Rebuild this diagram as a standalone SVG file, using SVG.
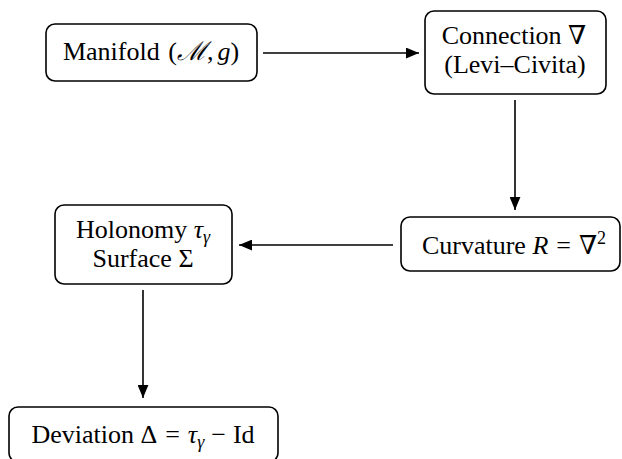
<svg xmlns="http://www.w3.org/2000/svg" width="622" height="459" viewBox="0 0 622 459">
<defs>
<style>
.box{fill:#fff;stroke:#000;stroke-width:1.6}
.t{font-family:"Liberation Serif","DejaVu Serif",serif;font-size:26px;fill:#000;text-anchor:middle}
.i{font-style:italic}
.edge{stroke:#000;stroke-width:1.6;fill:none;marker-end:url(#ah)}
</style>
<marker id="ah" viewBox="0 0 12 10" refX="12" refY="5" markerWidth="13" markerHeight="11" markerUnits="userSpaceOnUse" orient="auto">
<path d="M0,0 L12,5 L0,10 z" fill="#000"/>
</marker>
</defs>
<g id="connectors">
<path class="edge" d="M263,53 L419,53"/>
<path class="edge" d="M515,100 L515,210"/>
<path class="edge" d="M393,245 L239,245"/>
<path class="edge" d="M143,290 L143,398"/>
</g>
<g id="manifold">
<rect class="box" x="46" y="24" width="211" height="57" rx="9"/>
<text class="t" x="151" y="60">Manifold <tspan dx="2">(</tspan><tspan class="i">ℳ</tspan>,<tspan class="i" dx="4">g</tspan>)</text>
</g>
<g id="connection">
<rect class="box" x="425" y="11" width="181" height="83" rx="9"/>
<text class="t" x="514" y="44">Connection ∇</text>
<text class="t" x="515" y="73">(Levi–Civita)</text>
</g>
<g id="curvature">
<rect class="box" x="401" y="217" width="219" height="54" rx="9"/>
<text class="t" x="514" y="254">Curvature <tspan class="i">R</tspan><tspan dx="8">=</tspan><tspan dx="8">∇</tspan><tspan dy="-10" font-size="18">2</tspan></text>
</g>
<g id="holonomy">
<rect class="box" x="55" y="205" width="177" height="79" rx="9"/>
<text class="t" x="143" y="238">Holonomy <tspan class="i">τ</tspan><tspan class="i" dy="5" font-size="18">γ</tspan></text>
<text class="t" x="143" y="267">Surface Σ</text>
</g>
<g id="deviation">
<rect class="box" x="9" y="407" width="269" height="55" rx="9"/>
<text class="t" x="143" y="443">Deviation Δ<tspan dx="8">=</tspan><tspan class="i" dx="8">τ</tspan><tspan class="i" dy="5" font-size="18">γ</tspan><tspan dy="-5" dx="7">−</tspan><tspan dx="7">Id</tspan></text>
</g>
</svg>
